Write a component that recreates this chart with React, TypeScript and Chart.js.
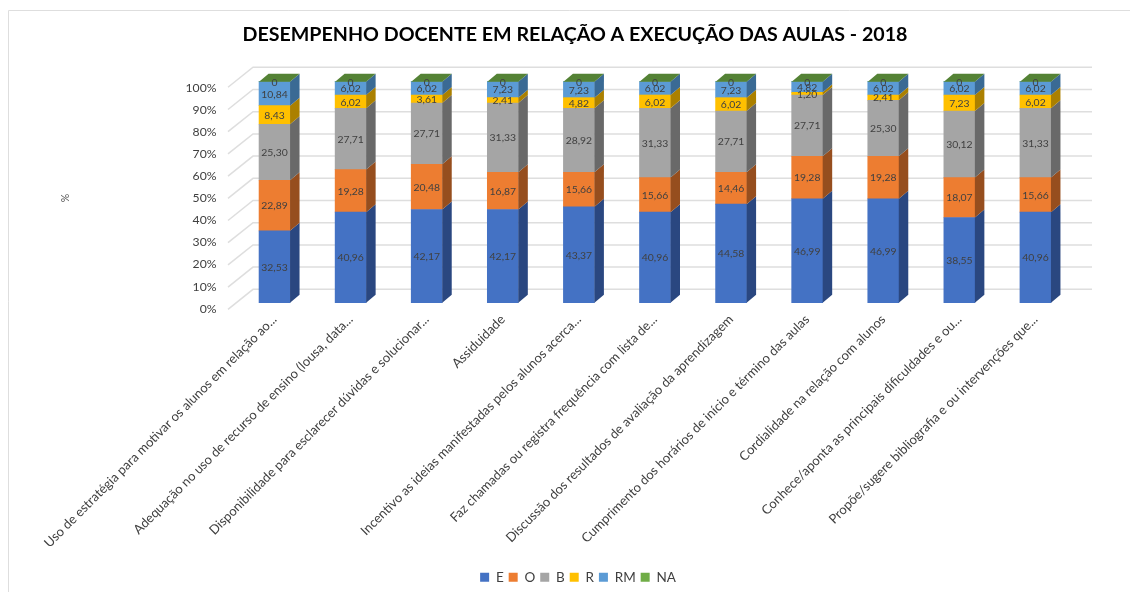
import React, { useEffect, useRef } from "react";
import { Chart, registerables } from "chart.js";

Chart.register(...registerables);

const categories = [
  "Uso de estratégia para motivar os alunos em relação ao...",
  "Adequação no uso de recurso de ensino (lousa, data...",
  "Disponibilidade para esclarecer dúvidas e solucionar...",
  "Assiduidade",
  "Incentivo as ideias manifestadas pelos alunos acerca...",
  "Faz chamadas ou registra frequência com lista de...",
  "Discussão dos resultados de avaliação da aprendizagem",
  "Cumprimento dos horários de início e término das aulas",
  "Cordialidade na relação com alunos",
  "Conhece/aponta as principais dificuldades e ou...",
  "Propõe/sugere bibliografia e ou intervenções que...",
];

const valuesE = [32.53, 40.96, 42.17, 42.17, 43.37, 40.96, 44.58, 46.99, 46.99, 38.55, 40.96];
const valuesO = [22.89, 19.28, 20.48, 16.87, 15.66, 15.66, 14.46, 19.28, 19.28, 18.07, 15.66];
const valuesB = [25.3, 27.71, 27.71, 31.33, 28.92, 31.33, 27.71, 27.71, 25.3, 30.12, 31.33];
const valuesR = [8.43, 6.02, 3.61, 2.41, 4.82, 6.02, 6.02, 1.2, 2.41, 7.23, 6.02];
const valuesRM = [10.84, 6.02, 6.02, 7.23, 7.23, 6.02, 7.23, 4.82, 6.02, 6.02, 6.02];
const valuesNA = [0, 0, 0, 0, 0, 0, 0, 0, 0, 0, 0];

const seriesNames = ["E", "O", "B", "R", "RM", "NA"];
const seriesValues = [valuesE, valuesO, valuesB, valuesR, valuesRM, valuesNA];
const frontColors = ["#4472C4", "#ED7D31", "#A5A5A5", "#FFC000", "#5B9BD5", "#70AD47"];
const sideColors = ["#2A4780", "#964E1E", "#696969", "#AB8000", "#3A6A94", "#548235"];

const TITLE = "DESEMPENHO DOCENTE EM RELAÇÃO A EXECUÇÃO DAS AULAS - 2018";
const FONT = "Lato, 'Open Sans', sans-serif";
const TEXT = "#404040";
const DEPTH_X = 9.5;
const DEPTH_Y = 8;
const BACK_LIFT = 13.4;
const WALL_LEFT = 253;
const WALL_RIGHT = 1092;
const WALL_DX = 25;
const WALL_DY = 20;
const PAD_LEFT = 76.5;
const AREA_LEFT = 236.5;
const AREA_RIGHT_PAD = 56.5;
const AREA_BOTTOM = 302.7;
const LEGEND_SHIFT_X = 3;
const LEGEND_SHIFT_Y = 2;

const legendShiftPlugin = {
  id: "legendShift",
  afterLayout(chart: any) {
    const l = chart.legend;
    l.left += LEGEND_SHIFT_X;
    l.right += LEGEND_SHIFT_X;
    l.top += LEGEND_SHIFT_Y;
    l.bottom += LEGEND_SHIFT_Y;
  },
};

const wallsPlugin = {
  id: "walls",
  beforeDatasetsDraw(chart: any) {
    const { ctx, scales } = chart;
    ctx.save();
    ctx.strokeStyle = "#DEDEDE";
    ctx.lineWidth = 1.5;
    scales.y.ticks.forEach((t: any) => {
      const y = scales.y.getPixelForValue(t.value) - BACK_LIFT - t.value * 0.01;
      ctx.beginPath();
      ctx.moveTo(WALL_LEFT - WALL_DX, y + WALL_DY);
      ctx.lineTo(WALL_LEFT, y);
      ctx.lineTo(WALL_RIGHT, y);
      ctx.stroke();
    });
    ctx.restore();
  },
};

const depthPlugin = {
  id: "depth",
  afterDatasetsDraw(chart: any) {
    const { ctx } = chart;
    ctx.save();
    chart.data.datasets.forEach((ds: any, di: number) => {
      chart.getDatasetMeta(di).data.forEach((bar: any) => {
        const p = bar.getProps(["x", "y", "base", "width"], true);
        const l = p.x - p.width / 2;
        const r = p.x + p.width / 2;
        ctx.fillStyle = sideColors[di];
        if (Math.abs(p.base - p.y) > 0.01) {
          ctx.beginPath();
          ctx.moveTo(r, p.y);
          ctx.lineTo(r + DEPTH_X, p.y - DEPTH_Y);
          ctx.lineTo(r + DEPTH_X, p.base - DEPTH_Y);
          ctx.lineTo(r, p.base);
          ctx.closePath();
          ctx.fill();
        }
        if (di === chart.data.datasets.length - 1) {
          ctx.beginPath();
          ctx.moveTo(l, p.y);
          ctx.lineTo(l + DEPTH_X, p.y - DEPTH_Y);
          ctx.lineTo(r + DEPTH_X, p.y - DEPTH_Y);
          ctx.lineTo(r, p.y);
          ctx.closePath();
          ctx.fill();
        }
      });
    });
    ctx.fillStyle = TEXT;
    ctx.font = `10.4px ${FONT}`;
    ctx.textAlign = "center";
    ctx.textBaseline = "middle";
    chart.data.datasets.forEach((ds: any, di: number) => {
      chart.getDatasetMeta(di).data.forEach((bar: any, i: number) => {
        const p = bar.getProps(["x", "y", "base"], true);
        const v = ds.data[i];
        const label = v === 0 ? "0" : v.toFixed(2).replace(".", ",");
        ctx.fillText(label, p.x, (p.y + p.base) / 2 + 0.5);
      });
    });
    ctx.fillStyle = "#595959";
    ctx.translate(66, 198);
    ctx.rotate(-Math.PI / 2);
    ctx.font = `10.5px ${FONT}`;
    ctx.fillText("%", 0, 0);
    ctx.restore();
  },
};

const framePlugin = {
  id: "frame",
  beforeDraw(chart: any) {
    const { ctx, width, height } = chart;
    ctx.save();
    ctx.fillStyle = "#FFFFFF";
    ctx.fillRect(0, 0, width, height);
    ctx.strokeStyle = "#DEDEDE";
    ctx.lineWidth = 1;
    ctx.beginPath();
    ctx.moveTo(8.5, height);
    ctx.lineTo(8.5, 10.5);
    ctx.lineTo(width, 10.5);
    ctx.stroke();
    ctx.restore();
  },
};

export default function App() {
  const ref = useRef<HTMLCanvasElement | null>(null);
  useEffect(() => {
    document.body.style.margin = "0";
    const chart = new Chart(ref.current as HTMLCanvasElement, {
      type: "bar",
      data: {
        labels: categories,
        datasets: seriesNames.map((name, i) => ({
          label: name,
          data: seriesValues[i],
          backgroundColor: frontColors[i],
          clip: false,
        })),
      } as any,
      options: {
        animation: false,
        responsive: false,
        barThickness: 31,
        layout: { padding: { left: PAD_LEFT, right: AREA_RIGHT_PAD, top: 0, bottom: 0 } },
        plugins: {
          tooltip: { enabled: false },
          title: {
            display: true,
            text: TITLE,
            color: "#000000",
            font: { family: FONT, size: 19.65, weight: "bold" },
            padding: { top: 23.2, bottom: 34.9 },
          },
          legend: {
            position: "bottom",
            labels: {
              boxWidth: 9,
              boxHeight: 9,
              padding: 5,
              color: TEXT,
              font: { family: FONT, size: 13.5 },
            },
          },
        },
        scales: {
          x: {
            stacked: true,
            grid: { display: false },
            border: { display: false },
            ticks: {
              autoSkip: false,
              minRotation: 45,
              maxRotation: 45,
              padding: 1,
              color: TEXT,
              font: { family: FONT, size: 13 },
            },
            afterFit(s: any) {
              s.height = 592 - AREA_BOTTOM - (s.chart.legend?.height ?? 30);
            },
          },
          y: {
            stacked: true,
            min: 0,
            max: 100,
            grid: { display: false },
            border: { display: false },
            ticks: {
              stepSize: 10,
              padding: 12,
              labelOffset: 6,
              color: TEXT,
              font: { family: FONT, size: 12.2 },
              callback: (v: any) => `${v}%`,
            },
            afterFit(s: any) {
              s.width = AREA_LEFT - PAD_LEFT;
            },
          },
        },
      } as any,
      plugins: [legendShiftPlugin, framePlugin, wallsPlugin, depthPlugin],
    });
    return () => chart.destroy();
  }, []);
  return <canvas ref={ref} width={1130} height={592} style={{ display: "block" }} />;
}
